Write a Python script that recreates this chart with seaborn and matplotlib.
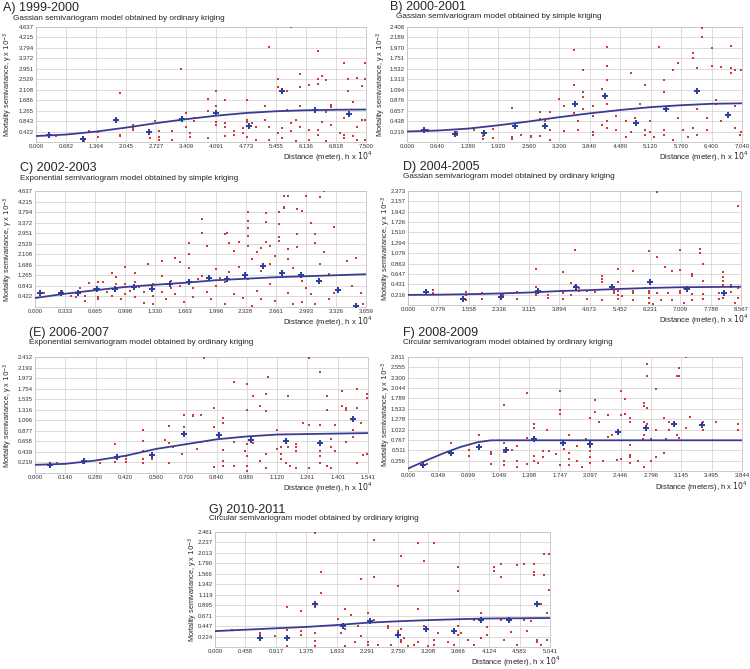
import matplotlib
matplotlib.use("Agg")
import matplotlib.pyplot as plt
import seaborn as sns

# ---------------- A) 1999-2000
a_xticks = ["0.000", "0.682", "1.364", "2.045", "2.727", "3.409", "4.091", "4.773", "5.455", "6.136", "6.818", "7.500"]
a_yticks = ["0.422", "0.843", "1.265", "1.686", "2.108", "2.529", "2.951", "3.372", "3.794", "4.215", "4.637"]
a_cross_x = [0.30, 1.06, 1.81, 2.57, 3.32, 4.08, 4.83, 5.60, 6.35, 7.11]
a_cross_y = [0.27, 0.13, 0.87, 0.40, 0.94, 1.18, 0.65, 2.04, 1.28, 1.14]
a_fit_x = [0, 0.682, 1.364, 2.045, 2.727, 3.409, 4.091, 4.773, 5.455, 6.136, 6.818, 7.5]
a_fit_y = [0.24, 0.30, 0.42, 0.58, 0.76, 0.92, 1.06, 1.17, 1.24, 1.28, 1.30, 1.31]
a_red = [(0.45, 0.25), (1.1, 0.12), (1.1, 0.05), (1.2, 0.45), (1.4, 0.2), (1.4, 0.4), (1.9, 1.97), (1.9, 0.3),
         (1.9, 0.25), (2.2, 0.7), (2.2, 0.55), (2.2, 0.5), (2.6, 0.15), (2.7, 0.85), (2.8, 0.45), (2.8, 0.2),
         (2.8, 0.1), (3.1, 0.45), (3.1, 0.1), (3.3, 2.95), (3.4, 1.15), (3.4, 0.6), (3.5, 0.35), (3.5, 0.2),
         (3.6, 0.95), (3.6, 0.85), (3.9, 1.75), (3.9, 1.25), (3.9, 0.15), (4.1, 2.05), (4.1, 1.45), (4.1, 0.8),
         (4.1, 0.7), (4.3, 0.75), (4.3, 0.6), (4.3, 0.25), (4.3, 1.7), (4.5, 0.45), (4.5, 0.3), (4.7, 0.55),
         (4.7, 0.35), (4.8, 1.7), (4.8, 0.9), (4.8, 0.8), (4.8, 0.2), (4.9, 0.75), (5.0, 0.1), (5.0, 0.6),
         (5.2, 1.45), (5.3, 3.85), (5.3, 0.6), (5.3, 0.1), (5.2, 0.9), (5.5, 2.55), (5.5, 2.2), (5.5, 0.35),
         (5.6, 0.55), (5.6, 0.15), (5.7, 2.05), (5.7, 1.3), (5.8, 4.62), (5.8, 0.75), (5.8, 0.45), (5.9, 0.9),
         (5.9, 0.05), (6.0, 2.75), (6.0, 1.45), (6.0, 2.2), (6.0, 0.6), (6.2, 2.3), (6.2, 0.5), (6.2, 0.1),
         (6.4, 3.65), (6.4, 2.55), (6.4, 2.35), (6.4, 0.5), (6.4, 0.3), (6.5, 2.65), (6.5, 0.8), (6.6, 2.5),
         (6.6, 1.2), (6.6, 0.05), (6.7, 1.5), (6.7, 1.4), (6.7, 0.7), (6.9, 0.35), (7.0, 3.2), (7.0, 0.95),
         (7.0, 0.3), (7.0, 0.15), (7.1, 2.55), (7.1, 2.05), (7.2, 1.6), (7.2, 0.25), (7.3, 2.6), (7.3, 0.6),
         (7.3, 0.1), (7.4, 2.25), (7.4, 0.9), (7.48, 3.2), (7.48, 2.55), (7.48, 0.9), (7.48, 0.1)]

# ---------------- B) 2000-2001
b_xticks = ["0.000", "0.640", "1.280", "1.920", "2.560", "3.200", "3.840", "4.480", "5.120", "5.760", "6.400", "7.040"]
b_yticks = ["0.219", "0.438", "0.657", "0.876", "1.094", "1.313", "1.532", "1.751", "1.970", "2.189", "2.408"]
b_cross_x = [0.35, 1.0, 1.61, 2.26, 2.89, 3.54, 4.17, 4.81, 5.44, 6.09, 6.74]
b_cross_y = [0.26, 0.17, 0.18, 0.34, 0.34, 0.80, 0.96, 0.40, 0.70, 1.06, 0.57]
b_fit_x = [0, 0.64, 1.28, 1.92, 2.56, 3.2, 3.84, 4.48, 5.12, 5.76, 6.4, 7.04]
b_fit_y = [0.22, 0.24, 0.28, 0.35, 0.43, 0.52, 0.60, 0.67, 0.73, 0.77, 0.80, 0.81]
b_red = [(0.45, 0.26), (0.45, 0.23), (1.05, 0.2), (1.05, 0.15), (1.4, 0.3), (1.4, 0.25), (1.6, 0.12), (1.6, 0.07),
         (1.8, 0.28), (1.8, 0.08), (2.2, 0.72), (2.2, 0.1), (2.2, 0.06), (2.4, 0.14), (2.6, 0.12), (2.6, 0.1),
         (2.8, 0.62), (2.8, 0.48), (2.8, 0.12), (2.9, 0.45), (3.0, 0.63), (3.0, 0.25), (3.0, 0.05), (3.2, 0.9),
         (3.3, 0.75), (3.3, 0.22), (3.5, 1.2), (3.5, 0.6), (3.5, 1.92), (3.6, 0.45), (3.6, 0.25), (3.7, 1.5),
         (3.7, 1.05), (3.7, 0.95), (3.7, 0.7), (3.9, 0.75), (3.9, 0.55), (3.9, 0.2), (3.9, 0.15), (4.1, 1.1),
         (4.1, 0.35), (4.2, 1.98), (4.2, 1.6), (4.2, 1.3), (4.2, 0.8), (4.2, 0.45), (4.2, 0.3), (4.4, 0.55),
         (4.4, 0.25), (4.6, 0.45), (4.6, 0.1), (4.7, 1.45), (4.7, 0.2), (4.8, 0.5), (4.9, 0.8), (5.0, 1.2),
         (5.0, 0.25), (5.0, 0.15), (5.1, 0.45), (5.1, 0.2), (5.2, 0.1), (5.3, 1.98), (5.4, 1.3), (5.4, 1.05),
         (5.4, 0.25), (5.4, 0.15), (5.5, 0.75), (5.6, 1.5), (5.6, 0.05), (5.7, 1.65), (5.7, 0.5), (5.8, 0.25),
         (5.9, 0.1), (6.0, 1.87), (6.0, 1.75), (6.0, 0.3), (6.1, 1.55), (6.1, 0.7), (6.1, 0.15), (6.2, 2.39),
         (6.2, 2.19), (6.3, 0.5), (6.3, 0.25), (6.4, 1.59), (6.4, 1.97), (6.5, 0.88), (6.5, 0.8), (6.6, 1.58),
         (6.6, 0.45), (6.8, 1.55), (6.8, 2.0), (6.8, 1.45), (6.9, 1.5), (6.9, 0.75), (6.9, 0.3), (7.0, 0.15),
         (7.02, 1.5), (7.02, 0.2)]

# ---------------- C) 2002-2003
c_xticks = ["0.000", "0.333", "0.665", "0.998", "1.330", "1.663", "1.996", "2.328", "2.661", "2.993", "3.326", "3.659"]
c_yticks = ["0.422", "0.843", "1.265", "1.686", "2.108", "2.529", "2.951", "3.372", "3.794", "4.215", "4.637"]
c_cross_x = [0.06, 0.29, 0.48, 0.68, 0.88, 1.09, 1.29, 1.49, 1.70, 1.92, 2.12, 2.32, 2.52, 2.73, 2.94, 3.14, 3.35, 3.55]
c_cross_y = [0.57, 0.57, 0.57, 0.70, 0.70, 0.80, 0.73, 0.93, 1.00, 1.16, 1.12, 1.29, 1.64, 1.35, 1.27, 1.03, 0.69, 0.03]
c_fit_x = [0, 0.333, 0.665, 0.998, 1.33, 1.663, 1.996, 2.328, 2.661, 2.993, 3.326, 3.659]
c_fit_y = [0.36, 0.53, 0.67, 0.80, 0.89, 0.97, 1.07, 1.13, 1.19, 1.23, 1.27, 1.31]
c_red = [(0.1, 0.55), (0.3, 0.65), (0.3, 0.5), (0.4, 0.45), (0.45, 0.4), (0.5, 0.75), (0.5, 0.6), (0.55, 0.25),
         (0.55, 0.45), (0.6, 0.95), (0.65, 0.7), (0.7, 1.0), (0.7, 0.4), (0.7, 0.3), (0.75, 1.0), (0.8, 0.6),
         (0.85, 1.35), (0.85, 0.45), (0.9, 0.9), (0.9, 1.2), (0.95, 0.3), (1.0, 1.6), (1.0, 0.9), (1.0, 0.5),
         (1.05, 0.65), (1.1, 1.35), (1.1, 1.0), (1.1, 0.4), (1.15, 0.8), (1.2, 0.6), (1.2, 0.15), (1.25, 1.7),
         (1.3, 0.9), (1.3, 0.45), (1.3, 0.1), (1.4, 1.85), (1.4, 1.25), (1.4, 0.6), (1.45, 0.3), (1.5, 1.05),
         (1.5, 0.75), (1.55, 1.95), (1.55, 0.5), (1.6, 1.8), (1.6, 0.85), (1.65, 0.2), (1.7, 2.55), (1.7, 2.1),
         (1.7, 1.55), (1.75, 0.75), (1.75, 0.4), (1.8, 1.1), (1.85, 3.5), (1.85, 2.95), (1.85, 1.25), (1.9, 2.45),
         (1.9, 0.6), (1.95, 0.3), (2.0, 1.5), (2.0, 0.85), (2.05, 1.15), (2.1, 2.9), (2.12, 2.95), (2.1, 1.0),
         (2.1, 0.1), (2.15, 2.55), (2.15, 1.4), (2.2, 2.25), (2.2, 0.5), (2.25, 2.6), (2.25, 1.6), (2.3, 0.35),
         (2.35, 3.8), (2.35, 3.45), (2.35, 3.15), (2.35, 2.85), (2.35, 2.45), (2.35, 1.1), (2.4, 1.9), (2.4, 0.05),
         (2.45, 2.2), (2.45, 0.65), (2.5, 2.35), (2.5, 1.45), (2.5, 0.3), (2.55, 3.75), (2.55, 3.4), (2.55, 2.6),
         (2.6, 2.45), (2.6, 1.7), (2.6, 0.9), (2.65, 2.05), (2.65, 0.25), (2.7, 3.8), (2.7, 3.3), (2.7, 2.8),
         (2.7, 2.65), (2.75, 4.45), (2.75, 4.0), (2.75, 3.95), (2.8, 4.45), (2.8, 2.3), (2.8, 1.9), (2.8, 0.55),
         (2.85, 1.55), (2.85, 0.1), (2.9, 2.9), (2.9, 2.4), (2.9, 3.9), (2.95, 3.85), (2.95, 1.05), (2.95, 0.2),
         (3.0, 4.45), (3.0, 0.75), (3.05, 3.35), (3.05, 0.5), (3.1, 2.9), (3.1, 2.55), (3.1, 0.1), (3.15, 4.4),
         (3.15, 1.7), (3.2, 4.62), (3.2, 2.2), (3.25, 1.3), (3.25, 0.3), (3.3, 3.2), (3.3, 0.55), (3.45, 1.85),
         (3.5, 0.85), (3.55, 1.95), (3.6, 0.55), (3.63, 0.1)]

# ---------------- D) 2004-2005
d_xticks = ["0.000", "0.779", "1.558", "2.336", "3.115", "3.894", "4.673", "5.452", "6.231", "7.009", "7.788", "8.567"]
d_yticks = ["0.216", "0.431", "0.647", "0.863", "1.079", "1.294", "1.510", "1.726", "1.942", "2.157", "2.373"]
d_cross_x = [0.47, 1.42, 2.40, 3.35, 4.32, 5.26, 6.22, 7.18, 8.13]
d_cross_y = [0.28, 0.12, 0.17, 0.29, 0.38, 0.37, 0.48, 0.33, 0.26]
d_fit_x = [0, 0.779, 1.558, 2.336, 3.115, 3.894, 4.673, 5.452, 6.231, 7.009, 7.788, 8.567]
d_fit_y = [0.21, 0.215, 0.225, 0.24, 0.26, 0.29, 0.31, 0.335, 0.355, 0.37, 0.375, 0.38]
d_red = [(0.65, 0.32), (0.65, 0.25), (1.5, 0.27), (1.5, 0.2), (1.5, 0.1), (1.9, 0.26), (1.9, 0.12), (2.45, 0.2),
         (2.45, 0.16), (2.8, 0.28), (2.8, 0.12), (3.3, 0.75), (3.3, 0.38), (3.3, 0.25), (3.3, 0.2), (3.6, 0.2),
         (3.6, 0.15), (4.0, 0.69), (4.0, 0.3), (4.0, 0.25), (4.0, 0.12), (4.2, 0.45), (4.2, 0.2), (4.3, 1.15),
         (4.3, 0.4), (4.4, 0.35), (4.4, 0.3), (4.6, 0.3), (4.6, 0.12), (4.8, 0.28), (5.0, 0.6), (5.0, 0.55),
         (5.0, 0.48), (5.0, 0.1), (5.3, 0.3), (5.3, 0.25), (5.4, 0.75), (5.4, 0.48), (5.4, 0.3), (5.4, 0.2),
         (5.4, 0.12), (5.5, 0.18), (5.8, 0.7), (5.8, 0.3), (5.8, 0.25), (5.8, 0.1), (6.1, 0.35), (6.2, 1.12),
         (6.2, 0.3), (6.2, 0.25), (6.2, 0.15), (6.2, 0.05), (6.3, 0.02), (6.4, 2.36), (6.4, 1.0), (6.4, 0.25),
         (6.5, 0.1), (6.6, 0.8), (6.7, 0.25), (6.8, 0.7), (6.8, 0.1), (7.0, 1.15), (7.0, 0.72), (7.0, 0.3),
         (7.0, 0.25), (7.1, 0.35), (7.1, 0.05), (7.3, 0.65), (7.3, 0.6), (7.3, 0.1), (7.3, 0.22), (7.5, 1.17),
         (7.5, 1.08), (7.6, 0.85), (7.6, 0.5), (7.6, 0.22), (7.6, 0.12), (8.0, 0.25), (8.0, 0.12), (8.1, 0.68),
         (8.1, 0.58), (8.1, 0.5), (8.1, 0.42), (8.1, 0.15), (8.3, 0.42), (8.3, 0.38), (8.3, 0.28), (8.4, 0.05),
         (8.5, 2.06), (8.5, 0.35), (8.5, 0.15)]

# ---------------- (E) 2006-2007
e_xticks = ["0.000", "0.140", "0.280", "0.420", "0.560", "0.700", "0.840", "0.980", "1.120", "1.261", "1.401", "1.541"]
e_yticks = ["0.219", "0.439", "0.658", "0.877", "1.096", "1.316", "1.535", "1.754", "1.973", "2.193", "2.412"]
e_cross_x = [0.07, 0.225, 0.38, 0.54, 0.69, 0.85, 1.0, 1.16, 1.32, 1.47]
e_cross_y = [0.17, 0.24, 0.33, 0.37, 0.81, 0.78, 0.69, 0.66, 0.63, 1.13]
e_fit_x = [0, 0.14, 0.28, 0.42, 0.56, 0.7, 0.84, 0.98, 1.12, 1.261, 1.401, 1.541]
e_fit_y = [0.17, 0.19, 0.26, 0.36, 0.50, 0.60, 0.70, 0.76, 0.80, 0.81, 0.82, 0.83]
e_red = [(0.1, 0.2), (0.22, 0.25), (0.22, 0.2), (0.3, 0.21), (0.37, 0.6), (0.37, 0.32), (0.37, 0.22), (0.42, 0.35),
         (0.42, 0.3), (0.42, 0.22), (0.5, 0.9), (0.5, 0.66), (0.5, 0.45), (0.5, 0.3), (0.5, 0.2), (0.54, 0.3),
         (0.6, 0.68), (0.62, 0.97), (0.62, 0.62), (0.62, 0.2), (0.64, 0.55), (0.68, 0.4), (0.69, 1.2), (0.69, 0.95),
         (0.73, 1.2), (0.73, 1.18), (0.75, 0.5), (0.77, 1.2), (0.77, 0.65), (0.78, 2.4), (0.83, 1.35), (0.83, 0.95),
         (0.83, 0.12), (0.87, 1.15), (0.87, 1.05), (0.87, 0.48), (0.87, 0.25), (0.87, 0.15), (0.92, 1.9), (0.92, 0.65),
         (0.92, 0.15), (0.97, 0.45), (0.98, 1.85), (0.98, 1.3), (0.98, 0.6), (0.98, 0.35), (0.98, 0.15), (0.98, 0.05),
         (1.01, 1.6), (1.01, 0.62), (1.04, 1.4), (1.04, 0.25), (1.07, 1.65), (1.07, 1.28), (1.07, 0.4), (1.07, 0.1),
         (1.08, 2.0), (1.12, 0.9), (1.12, 0.5), (1.14, 0.55), (1.14, 0.4), (1.14, 0.3), (1.16, 0.2), (1.17, 1.6),
         (1.17, 0.55), (1.18, 0.15), (1.21, 0.6), (1.21, 0.55), (1.21, 0.45), (1.21, 0.1), (1.24, 1.05), (1.27, 2.4),
         (1.27, 1.0), (1.27, 0.1), (1.32, 2.1), (1.32, 1.0), (1.32, 0.45), (1.32, 0.35), (1.32, 0.2), (1.35, 1.6),
         (1.35, 1.3), (1.35, 0.15), (1.37, 0.7), (1.37, 0.55), (1.37, 0.1), (1.39, 1.0), (1.39, 0.45), (1.42, 1.7),
         (1.42, 1.4), (1.44, 1.35), (1.44, 1.3), (1.44, 0.65), (1.47, 0.9), (1.47, 0.75), (1.49, 1.75), (1.49, 1.35),
         (1.49, 0.2), (1.51, 1.05), (1.52, 0.38), (1.535, 1.65), (1.535, 1.55), (1.535, 0.4)]

# ---------------- F) 2008-2009
f_xticks = ["0.000", "0.349", "0.699", "1.049", "1.398", "1.747", "2.097", "2.446", "2.796", "3.145", "3.495", "3.844"]
f_yticks = ["0.256", "0.511", "0.767", "1.022", "1.278", "1.533", "1.789", "2.044", "2.300", "2.555", "2.811"]
f_cross_x = [0.17, 0.49, 0.82, 1.13, 1.45, 1.78, 2.10, 2.42, 2.74, 3.06, 3.38]
f_cross_y = [0.16, 0.45, 0.60, 0.51, 0.78, 0.68, 0.67, 0.95, 1.07, 1.15, 1.13]
f_fit_x = [0, 0.2, 0.4, 0.6, 0.8, 0.95, 1.049, 1.398, 1.747, 2.097, 2.446, 2.796, 3.145, 3.495, 3.844]
f_fit_y = [0.06, 0.25, 0.43, 0.59, 0.71, 0.755, 0.757, 0.757, 0.757, 0.757, 0.757, 0.757, 0.757, 0.757, 0.757]
f_red = [(0.22, 0.18), (0.5, 0.7), (0.5, 0.48), (0.5, 0.42), (0.7, 0.52), (0.7, 0.38), (0.82, 0.9), (0.82, 0.55),
         (0.95, 0.48), (0.95, 0.42), (0.95, 0.18), (1.1, 1.62), (1.1, 0.68), (1.1, 0.48), (1.1, 0.25), (1.1, 0.15),
         (1.2, 0.52), (1.25, 0.62), (1.25, 0.25), (1.25, 0.1), (1.37, 1.92), (1.37, 0.82), (1.37, 0.18), (1.45, 1.15),
         (1.45, 1.05), (1.45, 0.38), (1.45, 0.25), (1.5, 0.2), (1.55, 0.5), (1.55, 0.35), (1.6, 1.0), (1.62, 0.5),
         (1.7, 0.42), (1.75, 1.98), (1.75, 1.5), (1.75, 1.4), (1.75, 0.15), (1.8, 0.55), (1.85, 0.88), (1.85, 0.45),
         (1.85, 0.3), (1.85, 0.15), (1.95, 0.62), (1.95, 0.25), (2.0, 0.1), (2.05, 0.8), (2.1, 1.3), (2.1, 0.6),
         (2.1, 0.5), (2.1, 0.35), (2.1, 0.2), (2.15, 1.75), (2.15, 1.45), (2.2, 1.2), (2.25, 0.25), (2.3, 1.38),
         (2.3, 0.85), (2.35, 0.9), (2.4, 0.28), (2.45, 1.98), (2.45, 1.37), (2.45, 0.3), (2.5, 1.4), (2.5, 1.78),
         (2.55, 1.3), (2.55, 1.22), (2.55, 0.65), (2.55, 0.4), (2.55, 0.35), (2.55, 0.2), (2.65, 0.25), (2.7, 0.78),
         (2.72, 1.68), (2.72, 1.6), (2.72, 1.2), (2.72, 0.9), (2.72, 0.1), (2.75, 2.65), (2.75, 2.35), (2.75, 1.55),
         (2.75, 1.17), (2.8, 0.78), (2.8, 0.25), (2.85, 2.03), (2.85, 1.0), (2.85, 0.35), (2.95, 1.3), (2.95, 0.45),
         (2.97, 0.8), (3.0, 1.22), (3.0, 1.02), (3.1, 2.35), (3.1, 0.9), (3.12, 2.55), (3.12, 2.35), (3.12, 0.82),
         (3.2, 2.8), (3.2, 1.07), (3.25, 1.32), (3.4, 1.2), (3.4, 1.0), (3.55, 1.2), (3.8, 1.17), (3.8, 1.0)]

# ---------------- G) 2010-2011
g_xticks = ["0.000", "0.458", "0.917", "1.375", "1.833", "2.291", "2.750", "3.208", "3.666", "4.124", "4.583", "5.041"]
g_yticks = ["0.224", "0.447", "0.671", "0.895", "1.119", "1.342", "1.566", "1.790", "2.013", "2.237", "2.461"]
g_cross_x = [0.67, 1.08, 1.50, 1.92, 2.33, 2.75, 3.17, 3.59, 4.01, 4.43, 4.85]
g_cross_y = [0.19, 0.19, 0.93, 0.46, 0.56, 0.26, 0.38, 0.34, 0.57, 0.57, 0.93]
g_fit_x = [0, 0.458, 0.917, 1.375, 1.833, 2.291, 2.75, 3.208, 3.666, 4.124, 4.583, 5.041]
g_fit_y = [0.34, 0.37, 0.40, 0.43, 0.47, 0.52, 0.55, 0.575, 0.595, 0.61, 0.615, 0.62]
g_red = [(0.25, 0.37), (0.67, 0.3), (0.67, 0.25), (0.67, 0.2), (0.9, 0.23), (1.08, 0.85), (1.08, 0.37), (1.08, 0.2),
         (1.08, 0.02), (1.3, 0.77), (1.3, 0.35), (1.3, 0.25), (1.5, 2.44), (1.5, 0.85), (1.5, 0.3), (1.5, 0.12),
         (1.5, 0.02), (1.6, 1.6), (1.6, 1.15), (1.85, 0.6), (1.9, 0.3), (1.95, 0.82), (1.95, 0.38), (1.95, 0.02),
         (2.05, 0.68), (2.1, 0.1), (2.15, 0.45), (2.2, 1.45), (2.2, 0.23), (2.3, 0.73), (2.3, 0.1), (2.3, 0.05),
         (2.4, 2.3), (2.4, 1.5), (2.4, 0.58), (2.45, 0.05), (2.6, 0.45), (2.6, 0.4), (2.65, 0.05), (2.75, 1.3),
         (2.75, 0.35), (2.8, 1.95), (2.8, 0.38), (2.8, 0.15), (2.8, 0.1), (2.85, 0.2), (2.9, 0.03), (3.0, 0.05),
         (3.05, 2.22), (3.05, 0.82), (3.05, 0.1), (3.15, 1.83), (3.15, 0.45), (3.2, 0.02), (3.3, 2.22), (3.3, 0.15),
         (3.3, 0.05), (3.35, 0.3), (3.5, 0.1), (3.6, 0.05), (3.65, 1.72), (3.65, 1.2), (3.65, 0.45), (3.65, 0.25),
         (3.7, 0.3), (3.8, 0.15), (3.9, 0.58), (3.9, 0.05), (4.0, 0.73), (4.0, 0.2), (4.1, 0.43), (4.1, 0.25),
         (4.2, 1.72), (4.2, 1.62), (4.3, 1.78), (4.3, 1.5), (4.3, 0.58), (4.35, 0.15), (4.45, 0.33), (4.55, 1.75),
         (4.55, 0.05), (4.65, 1.78), (4.65, 0.58), (4.7, 0.35), (4.75, 0.55), (4.8, 1.78), (4.8, 1.6), (4.8, 1.55),
         (4.85, 0.15), (4.85, 0.1), (4.9, 0.92), (4.9, 0.05), (4.95, 1.98), (4.95, 1.55), (5.02, 1.98), (5.02, 1.22),
         (5.0, 0.72), (5.0, 0.15)]

RED = "#d23a3a"
BLUE = "#2f3f9e"
LINE = "#3b3b94"
W, H = 750, 669

sns.set_style("whitegrid")
plt.rcParams["font.family"] = ["Liberation Sans", "DejaVu Sans"]

fig = plt.figure(figsize=(7.5, 6.69), dpi=100)


def px_axes(left, top, right, bottom):
    return fig.add_axes([left / W, 1 - bottom / H, (right - left) / W, (bottom - top) / H])


def ftext(x, y, s, **kw):
    fig.text(x / W, 1 - y / H, s, **kw)


def draw_panel(box, red, cx, cy, fx, fy, xt, yt, title, subtitle, tpos, xlab, xlab_pos, ylab_x):
    ax = px_axes(*box)
    rx = [p[0] for p in red]
    ry = [p[1] for p in red]
    sns.scatterplot(x=rx, y=ry, ax=ax, color=RED, marker="s", s=2.5, linewidth=0, zorder=3)
    sns.lineplot(x=fx, y=fy, ax=ax, color=LINE, linewidth=1.3, zorder=4)
    sns.scatterplot(x=cx, y=cy, ax=ax, color=BLUE, marker="P", s=18, linewidth=0, zorder=5)

    xv = [float(t) for t in xt]
    yv = [float(t) for t in yt]
    ax.set_xlim(0, xv[-1])
    ax.set_ylim(0, yv[-1])
    ax.set_xticks(xv)
    ax.set_xticklabels(xt)
    ax.set_yticks(yv)
    ax.set_yticklabels(yt)
    ax.tick_params(length=0, labelsize=4.3, pad=1.6, colors="#333333")
    ax.grid(True, color="#d6d6d6", linewidth=0.6)
    for sp in ax.spines.values():
        sp.set_color("#c4c4c4")
        sp.set_linewidth(0.6)
    ax.set_ylabel("")
    ax.set_xlabel("")

    ftext(ylab_x, (box[1] + box[3]) / 2, "Mortality semivariance, y x $10^{-3}$",
          fontsize=5.2, rotation=90, va="center", ha="center")
    ftext(tpos[0], tpos[1], title, fontsize=9.0, va="center", ha="left")
    ftext(tpos[2], tpos[3], subtitle, fontsize=5.9, va="center", ha="left")
    ftext(xlab_pos[0], xlab_pos[1], xlab, fontsize=5.6, va="center", ha="right")
    return ax


draw_panel((36, 27, 366, 142), a_red, a_cross_x, a_cross_y, a_fit_x, a_fit_y, a_xticks, a_yticks,
           "A) 1999-2000", "Gassian semivariogram model obtained by ordinary kriging", (3, 8, 13, 18),
           "Distance (meter), h x $10^{4}$", (372, 157), 8)
draw_panel((407, 27, 742, 142), b_red, b_cross_x, b_cross_y, b_fit_x, b_fit_y, b_xticks, b_yticks,
           "B) 2000-2001", "Gassian semivariogram model obtained by simple kriging", (390, 7, 396, 16),
           "Distance (meter), h x $10^{4}$", (748, 157), 381)
draw_panel((35, 191, 366, 307), c_red, c_cross_x, c_cross_y, c_fit_x, c_fit_y, c_xticks, c_yticks,
           "C) 2002-2003", "Exponential semivariogram model obtained by simple kriging", (20, 168, 20, 179),
           "Distance (meter), h x $10^{4}$", (372, 322), 8)
draw_panel((408, 191, 741, 305), d_red, d_cross_x, d_cross_y, d_fit_x, d_fit_y, d_xticks, d_yticks,
           "D) 2004-2005", "Gassian semivariogram model obtained by ordinary kriging", (403, 167, 403, 177),
           "Distance (meter), h x $10^{4}$", (748, 320), 386)
draw_panel((35, 357, 368, 473), e_red, e_cross_x, e_cross_y, e_fit_x, e_fit_y, e_xticks, e_yticks,
           "(E) 2006-2007", "Exponential semivariogram model obtained by ordinary kriging", (29, 333, 29, 342),
           "Distance (meter), h x $10^{4}$", (372, 488), 8)
draw_panel((408, 357, 742, 471), f_red, f_cross_x, f_cross_y, f_fit_x, f_fit_y, f_xticks, f_yticks,
           "F) 2008-2009", "Circular semivariogram model obtained by ordinary kriging", (403, 333, 403, 342),
           "Distance (meters), h x $10^{4}$", (748, 487), 386)
draw_panel((215, 532, 550, 647), g_red, g_cross_x, g_cross_y, g_fit_x, g_fit_y, g_xticks, g_yticks,
           "G) 2010-2011", "Circular semivariogram model obtained by ordinary kriging", (209, 510, 209, 518),
           "Distance (meter), h x $10^{4}$", (560, 662), 193)

fig.savefig("out.png", dpi=100, facecolor="white")
